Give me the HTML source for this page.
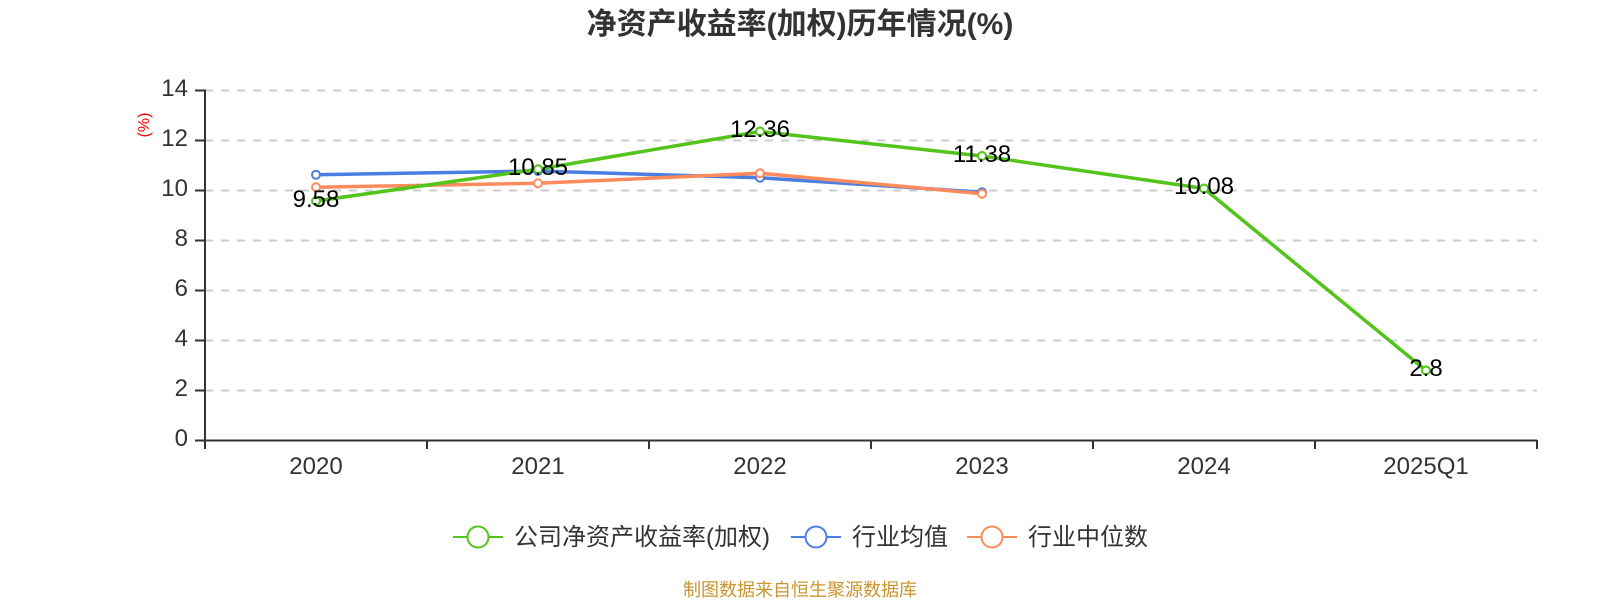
<!DOCTYPE html>
<html>
<head>
<meta charset="utf-8">
<style>
  html,body{margin:0;padding:0;background:#fff;}
  svg{display:block;font-family:"Liberation Sans","Noto Sans CJK SC",sans-serif;}
</style>
</head>
<body>
<svg width="1600" height="600" viewBox="0 0 1600 600" xmlns="http://www.w3.org/2000/svg">
  <rect width="1600" height="600" fill="#fff"/>
  <!-- title -->
  <text x="800" y="34" text-anchor="middle" font-size="30" font-weight="bold" fill="#333">净资产收益率(加权)历年情况(%)</text>

  <!-- grid lines -->
  <g stroke="#cccccc" stroke-width="2" stroke-dasharray="8 8">
    <line x1="205" y1="90.5" x2="1537" y2="90.5"/>
    <line x1="205" y1="140.5" x2="1537" y2="140.5"/>
    <line x1="205" y1="190.5" x2="1537" y2="190.5"/>
    <line x1="205" y1="240.5" x2="1537" y2="240.5"/>
    <line x1="205" y1="290.5" x2="1537" y2="290.5"/>
    <line x1="205" y1="340.5" x2="1537" y2="340.5"/>
    <line x1="205" y1="390.5" x2="1537" y2="390.5"/>
  </g>

  <!-- axes -->
  <g stroke="#333" stroke-width="2">
    <line x1="205" y1="89.5" x2="205" y2="441"/>
    <line x1="204" y1="440.5" x2="1537" y2="440.5"/>
    <line x1="195" y1="90.5" x2="205" y2="90.5"/>
    <line x1="195" y1="140.5" x2="205" y2="140.5"/>
    <line x1="195" y1="190.5" x2="205" y2="190.5"/>
    <line x1="195" y1="240.5" x2="205" y2="240.5"/>
    <line x1="195" y1="290.5" x2="205" y2="290.5"/>
    <line x1="195" y1="340.5" x2="205" y2="340.5"/>
    <line x1="195" y1="390.5" x2="205" y2="390.5"/>
    <line x1="195" y1="440.5" x2="205" y2="440.5"/>
    <line x1="205" y1="440" x2="205" y2="449"/>
    <line x1="427" y1="440" x2="427" y2="449"/>
    <line x1="649" y1="440" x2="649" y2="449"/>
    <line x1="871" y1="440" x2="871" y2="449"/>
    <line x1="1093" y1="440" x2="1093" y2="449"/>
    <line x1="1315" y1="440" x2="1315" y2="449"/>
    <line x1="1537" y1="440" x2="1537" y2="449"/>
  </g>

  <!-- y tick labels -->
  <g font-size="24" fill="#333" text-anchor="end">
    <text x="188" y="96">14</text>
    <text x="188" y="146">12</text>
    <text x="188" y="196">10</text>
    <text x="188" y="246">8</text>
    <text x="188" y="296">6</text>
    <text x="188" y="346">4</text>
    <text x="188" y="396">2</text>
    <text x="188" y="446">0</text>
  </g>
  <!-- y axis name -->
  <text x="0" y="0" font-size="16" fill="#ff0000" text-anchor="middle" transform="translate(149,125) rotate(-90)">(%)</text>

  <!-- x labels -->
  <g font-size="24" fill="#333" text-anchor="middle">
    <text x="316" y="474">2020</text>
    <text x="538" y="474">2021</text>
    <text x="760" y="474">2022</text>
    <text x="982" y="474">2023</text>
    <text x="1204" y="474">2024</text>
    <text x="1426" y="474">2025Q1</text>
  </g>

  <!-- series lines -->
  <g fill="none" stroke-width="3.5" stroke-linejoin="round" stroke-linecap="round">
    <polyline stroke="#4a7ee3" points="316,174.75 538,171 760,177.75 982,192.25"/>
    <polyline stroke="#fd8b5b" points="316,187.25 538,183.25 760,173.25 982,193.75"/>
    <polyline stroke="#52c41a" points="316,201 538,169.25 760,131.5 982,156 1204,188.5 1426,370.5"/>
  </g>
  <!-- markers -->
  <g fill="#fff" stroke-width="2">
    <g stroke="#4a7ee3">
      <circle cx="316" cy="174.75" r="4"/>
      <circle cx="538" cy="171" r="4"/>
      <circle cx="760" cy="177.75" r="4"/>
      <circle cx="982" cy="192.25" r="4"/>
    </g>
    <g stroke="#fd8b5b">
      <circle cx="316" cy="187.25" r="4"/>
      <circle cx="538" cy="183.25" r="4"/>
      <circle cx="760" cy="173.25" r="4"/>
      <circle cx="982" cy="193.75" r="4"/>
    </g>
    <g stroke="#52c41a">
      <circle cx="316" cy="201" r="4"/>
      <circle cx="538" cy="169.25" r="4"/>
      <circle cx="760" cy="131.5" r="4"/>
      <circle cx="982" cy="156" r="4"/>
      <circle cx="1204" cy="188.5" r="4"/>
      <circle cx="1426" cy="370.5" r="4"/>
    </g>
  </g>
  <!-- data labels -->
  <g font-size="24" fill="#000" text-anchor="middle">
    <text x="316" y="207">9.58</text>
    <text x="538" y="175">10.85</text>
    <text x="760" y="137">12.36</text>
    <text x="982" y="162">11.38</text>
    <text x="1204" y="194">10.08</text>
    <text x="1426" y="376">2.8</text>
  </g>

  <!-- legend -->
  <g stroke-width="2" fill="#fff">
    <line x1="453" y1="537" x2="503" y2="537" stroke="#52c41a"/>
    <circle cx="478" cy="537" r="10.5" stroke="#52c41a"/>
    <line x1="791" y1="537" x2="841" y2="537" stroke="#4a7ee3"/>
    <circle cx="816" cy="537" r="10.5" stroke="#4a7ee3"/>
    <line x1="967" y1="537" x2="1017" y2="537" stroke="#fd8b5b"/>
    <circle cx="992" cy="537" r="10.5" stroke="#fd8b5b"/>
  </g>
  <g font-size="24" fill="#333">
    <text x="514" y="545">公司净资产收益率(加权)</text>
    <text x="852" y="545">行业均值</text>
    <text x="1028" y="545">行业中位数</text>
  </g>

  <!-- footer -->
  <text x="800" y="596" text-anchor="middle" font-size="18" fill="#c9952f">制图数据来自恒生聚源数据库</text>
</svg>
</body>
</html>
